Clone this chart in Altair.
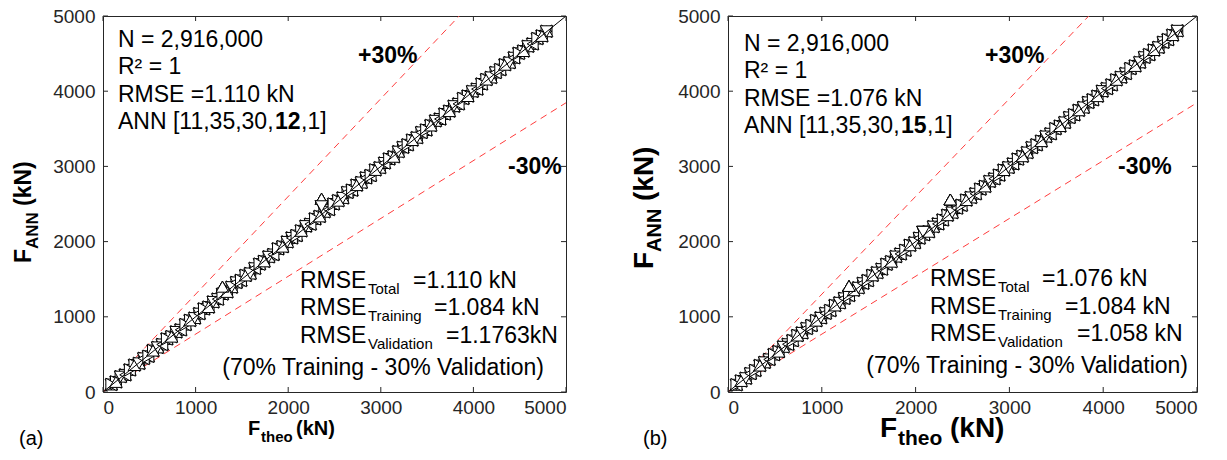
import altair as alt
import pandas as pd

# ------------------------------------------------------------------ data
F_theo = [90, 140, 190, 240, 290, 340, 390, 440, 490, 540,
          590, 640, 690, 740, 790, 840, 890, 940, 990, 1040,
          1090, 1140, 1190, 1240, 1290, 1340, 1390, 1440, 1490, 1540,
          1590, 1640, 1690, 1740, 1790, 1840, 1890, 1940, 1990, 2040,
          2090, 2140, 2190, 2240, 2290, 2340, 2390, 2440, 2490, 2540,
          2590, 2640, 2690, 2740, 2790, 2840, 2890, 2940, 2990, 3040,
          3090, 3140, 3190, 3240, 3290, 3340, 3390, 3440, 3490, 3540,
          3590, 3640, 3690, 3740, 3790, 3840, 3890, 3940, 3990, 4040,
          4090, 4140, 4190, 4240, 4290, 4340, 4390, 4440, 4490, 4540,
          4590, 4640, 4690, 4740, 4790]

F_ann_a = [100, 134, 204, 228, 294, 358, 381, 447, 475, 551,
           593, 632, 706, 736, 799, 827, 896, 952, 983, 1042,
           1105, 1129, 1198, 1235, 1303, 1331, 1394, 1457, 1484, 1550,
           1576, 1645, 1701, 1737, 1798, 1828, 1904, 1933, 1996, 2049,
           2080, 2143, 2206, 2232, 2302, 2335, 2397, 2427, 2500, 2544,
           2581, 2655, 2684, 2751, 2786, 2848, 2879, 2953, 2983, 3045,
           3099, 3128, 3196, 3254, 3287, 3350, 3382, 3452, 3484, 3544,
           3606, 3630, 3697, 3735, 3801, 3831, 3903, 3936, 3998, 4028,
           4096, 4155, 4183, 4249, 4287, 4352, 4380, 4445, 4504, 4534,
           4598, 4629, 4700, 4735, 4797]

F_ann_b = [96, 147, 183, 246, 286, 352, 394, 433, 498, 537,
           601, 635, 684, 751, 786, 846, 884, 949, 986, 1047,
           1083, 1151, 1186, 1245, 1284, 1353, 1386, 1446, 1482, 1551,
           1587, 1634, 1699, 1733, 1801, 1836, 1884, 1951, 1985, 2046,
           2093, 2131, 2199, 2236, 2288, 2351, 2386, 2446, 2483, 2552,
           2587, 2636, 2698, 2734, 2801, 2836, 2884, 2951, 2986, 3034,
           3097, 3135, 3184, 3251, 3287, 3336, 3397, 3434, 3501, 3536,
           3584, 3651, 3686, 3746, 3784, 3851, 3886, 3934, 4001, 4036,
           4084, 4151, 4186, 4235, 4301, 4336, 4384, 4451, 4486, 4547,
           4583, 4651, 4686, 4746, 4803]

# visible outliers
out_a_x = [1290, 2360, 2360]
out_a_y = [1400, 2570, 2470]
out_b_x = [1290, 2370, 2080]
out_b_y = [1410, 2560, 2130]
out_shapes = ["triangle-up", "triangle-up", "triangle-down"]

marker_cycle = ["triangle-up", "triangle-down", "triangle-left", "triangle-right"]

ticks = [0, 1000, 2000, 3000, 4000, 5000]
ref_x = [0, 5000]

stats_a = dict(N="N = 2,916,000", R2="R² = 1", rmse="RMSE =1.110 kN",
               ann_pre="ANN [11,35,30,", ann_bold="12", ann_post=",1]",
               tot="=1.110 kN", tr="=1.084 kN", val="=1.1763kN", letter="(a)")
stats_b = dict(N="N = 2,916,000", R2="R² = 1", rmse="RMSE =1.076 kN",
               ann_pre="ANN [11,35,30,", ann_bold="15", ann_post=",1]",
               tot="=1.076 kN", tr="=1.084 kN", val="=1.058 kN", letter="(b)")
split_note = "(70% Training - 30% Validation)"

# ------------------------------------------------------------------ style
FONT = "Liberation Sans"
AXC = "#262626"
RED = "#ff3c3c"
FS = 23
H = 376


def T(text, x, y, size=FS, weight="normal", align="left", angle=0, color="black"):
    return alt.Chart(alt.Data(values=[{"a": 1}])).mark_text(
        text=text, align=align, baseline="alphabetic", font=FONT, fontSize=size,
        fontWeight=weight, angle=angle, color=color
    ).encode(x=x, y=y)


def panel(W, ann, ox, oy, st, g):
    xs = alt.Scale(domain=[0, 5000], nice=False, zero=True)
    ys = alt.Scale(domain=[0, 5000], nice=False, zero=True)
    xax = alt.Axis(values=ticks, format="d", title=None, grid=False, domain=False,
                   ticks=False, labelPadding=6, labelFontSize=19, labelColor=AXC,
                   labelFont=FONT)
    yax = alt.Axis(values=ticks, format="d", title=None, grid=False, domain=False,
                   ticks=False, labelPadding=8, labelFontSize=19, labelColor=AXC,
                   labelFont=FONT)
    X = lambda f: alt.X(f, scale=xs, axis=xax)
    Y = lambda f: alt.Y(f, scale=ys, axis=yax)

    n = len(F_theo)
    cols = {}
    for k in range(4):
        cols["s%d" % k] = [marker_cycle[(i + k) % 4] for i in range(n)] + out_shapes
    pts = pd.DataFrame({"x": F_theo + ox, "y": ann + oy, **cols})
    refdf = pd.DataFrame({"x": ref_x})
    tdf = pd.DataFrame({"v": ticks})

    upper = alt.Chart(refdf).transform_calculate(y="datum.x*1.3").mark_line(
        color=RED, strokeDash=[7, 5], strokeWidth=1, clip=True).encode(x=X("x:Q"), y=Y("y:Q"))
    lower = alt.Chart(refdf).transform_calculate(y="datum.x/1.3").mark_line(
        color=RED, strokeDash=[7, 5], strokeWidth=1, clip=True).encode(x=X("x:Q"), y=Y("y:Q"))
    pmark = dict(filled=True, fill="white", stroke="black", strokeWidth=1.0, size=160,
                 opacity=1, fillOpacity=1)
    point_layers = [
        alt.Chart(pts).mark_point(**pmark).encode(
            x=X("x:Q"), y=Y("y:Q"), shape=alt.Shape("s%d:N" % k, scale=None, legend=None))
        for k in range(4)
    ]
    diag = alt.Chart(refdf).transform_calculate(y="datum.x").mark_line(
        color="black", strokeWidth=1, clip=True).encode(x=X("x:Q"), y=Y("y:Q"))

    bt = alt.Chart(tdf).mark_rule(color=AXC).encode(x=X("v:Q"), y=alt.value(H), y2=alt.value(H - 5))
    tt = alt.Chart(tdf).mark_rule(color=AXC).encode(x=X("v:Q"), y=alt.value(0), y2=alt.value(5))
    lt = alt.Chart(tdf).mark_rule(color=AXC).encode(y=Y("v:Q"), x=alt.value(0), x2=alt.value(5))
    rt = alt.Chart(tdf).mark_rule(color=AXC).encode(y=Y("v:Q"), x=alt.value(W), x2=alt.value(W - 5))

    v = alt.value
    texts = [
        T(st["N"], v(g["tx"]), v(g["ty"][0])),
        T(st["R2"], v(g["tx"]), v(g["ty"][1])),
        T(st["rmse"], v(g["tx"]), v(g["ty"][2])),
        T(st["ann_pre"], v(g["tx"]), v(g["ty"][3])),
        T(st["ann_bold"], v(g["tx"] + 157), v(g["ty"][3]), weight="bold"),
        T(st["ann_post"], v(g["tx"] + 183), v(g["ty"][3])),
        T("+30%", v(g["p30"][0]), v(g["p30"][1]), weight="bold"),
        T("-30%", v(g["m30"][0]), v(g["m30"][1]), weight="bold"),
    ]
    bx = g["bx"]
    for i, (sub, val) in enumerate([("Total", st["tot"]), ("Training", st["tr"]),
                                    ("Validation", st["val"])]):
        yb = g["by"][i]
        texts += [T("RMSE", v(bx), v(yb)),
                  T(sub, v(bx + 68), v(yb + 6), size=15),
                  T(val, v(g["vx"][i]), v(yb))]
    texts.append(T(split_note, v(g["nx"]), v(g["by"][3]), align="right"))
    a = g
    texts += [
        T("F", v(a["xt"][0]), v(a["xt_y"]), size=a["xt_fs"], weight="bold"),
        T("theo", v(a["xt"][1]), v(a["xt_y"] + a["sub_dy"]), size=a["xt_sfs"], weight="bold"),
        T("(kN)", v(a["xt"][2]), v(a["xt_y"]), size=a["xt_fs"], weight="bold"),
        T("F", v(a["yt_x"]), v(a["yt"][0]), size=a["yt_fs"], weight="bold", angle=270),
        T("ANN", v(a["yt_x"] + a["sub_dy"]), v(a["yt"][1]), size=a["yt_sfs"], weight="bold", angle=270),
        T("(kN)", v(a["yt_x"]), v(a["yt"][2]), size=a["yt_fs"], weight="bold", angle=270),
        T(st["letter"], v(a["lx"]), v(a["ly"]), size=20),
    ]
    return alt.layer(upper, lower, *point_layers, diag, bt, tt, lt, rt, *texts).properties(
        width=W, height=H)


geo_a = dict(tx=15, ty=[31, 58, 86, 113], p30=[255, 47], m30=[405, 158],
             bx=197, vx=[310, 331, 343], by=[272, 299, 327, 359], nx=441,
             xt=[145, 158, 193], xt_y=419, xt_fs=20, xt_sfs=15, sub_dy=7,
             yt_x=-72, yt=[247, 233, 190], yt_fs=23, yt_sfs=17, lx=-84, ly=429)
geo_b = dict(tx=16, ty=[35, 62, 90, 117], p30=[257, 47], m30=[390, 158],
             bx=202, vx=[314, 337, 349], by=[270, 298, 325, 357], nx=460,
             xt=[152, 170, 222], xt_y=421, xt_fs=28, xt_sfs=21, sub_dy=8,
             yt_x=-75, yt=[253, 236, 185], yt_fs=28, yt_sfs=20, lx=-85, ly=429)

left = panel(463, F_ann_a, out_a_x, out_a_y, stats_a, geo_a)
right = panel(469, F_ann_b, out_b_x, out_b_y, stats_b, geo_b)

chart = alt.hconcat(left, right, spacing=63).properties(
    padding={"left": 12, "top": 6, "right": 0, "bottom": 0},
    background="white"
).configure_view(stroke=AXC, strokeWidth=1)

chart.save("out.html", embed_options={"renderer": "svg", "actions": False})
